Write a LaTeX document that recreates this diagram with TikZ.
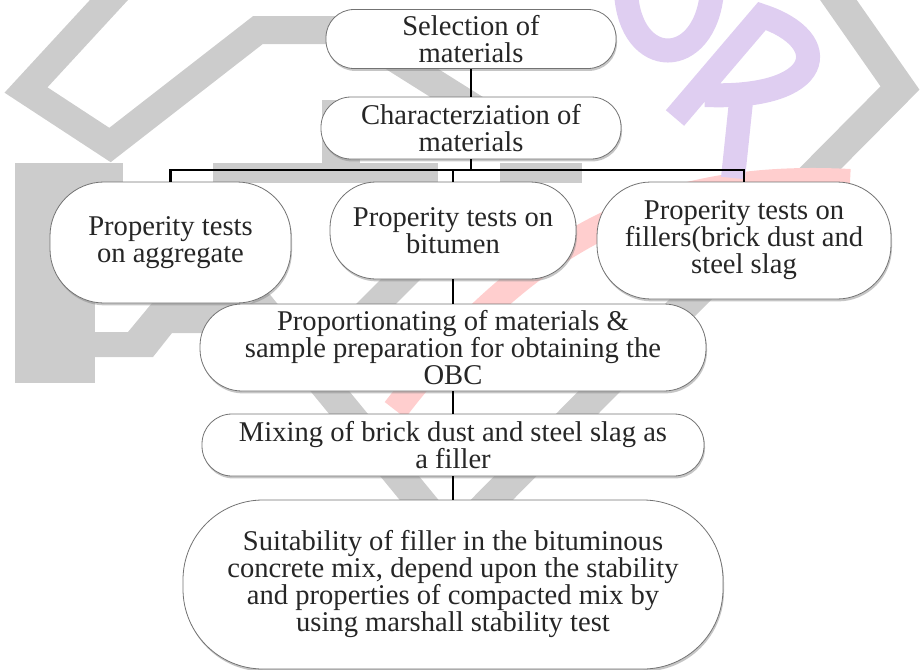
\documentclass[tikz,border=0pt]{standalone}
\usepackage{fontspec}
\setmainfont{Liberation Serif}
\usetikzlibrary{shadows}
\definecolor{wmgray}{RGB}{204,204,204}
\definecolor{wmpink}{RGB}{255,206,206}
\definecolor{wmpurple}{RGB}{223,206,241}
\begin{document}
\begin{tikzpicture}[x=0.5pt,y=-0.5pt,
  box/.style={draw=black!55,line width=0.4pt,fill=white,align=center,inner sep=0pt,
    text=black!85,font=\fontsize{14.3}{13.5}\selectfont,
    drop shadow={shadow xshift=0.5pt,shadow yshift=-1.2pt,fill=black!45}},
  link/.style={line width=1.4pt,black},
  wm/.style={line width=14pt,wmgray}]
\useasboundingbox (0,0) rectangle (922,670);

% watermark
\draw[wm] (120,-12) -- (26,90) -- (110,145) -- (258,30) -- (350,30) -- (490,118);
\draw[wm,line width=15pt] (830,-12) -- (900,88) -- (452,540) -- (255,300);
\draw[wm] (340,340) -- (430,250);
\fill[wmgray] (15,163) rectangle (95,383);
\fill[wmgray] (15,163) rectangle (123,183);
\fill[wmgray] (213,163) rectangle (438,183);
\fill[wmgray] (500,163) rectangle (582,183);
\fill[wmgray] (322,100) rectangle (360,163);
\fill[wmgray] (95,332) -- (128,332) -- (152,303) -- (240,303) -- (240,333)
  -- (172,333) -- (153,357) -- (95,357) -- cycle;
\draw[wmpink,line width=13pt] (850,182) .. controls (660,172) and (530,235) .. (395,410);
\draw[wmpurple,line width=12pt] (626,-8) .. controls (630,70) and (705,70) .. (712,-8);
\draw[wmpurple,line width=12pt] (675,118) -- (762,16) .. controls (835,40) and (825,100) .. (705,95);
\draw[wmpurple,line width=12pt] (742,92) -- (733,178);

% boxes
\node[box,minimum width=145pt,minimum height=29.5pt,rounded corners=14pt] (sel) at (471,39)
  {Selection of\\materials};
\node[box,minimum width=150pt,minimum height=31pt,rounded corners=15pt] (char) at (471,128)
  {Characterziation of\\materials};
\node[box,minimum width=120.5pt,minimum height=60.5pt,rounded corners=27pt] (agg) at (170.5,242.5)
  {Properity tests\\on aggregate};
\node[box,minimum width=123pt,minimum height=48.5pt,rounded corners=23pt] (bit) at (453,230.5)
  {Properity tests on\\bitumen};
\node[box,minimum width=147pt,minimum height=58.5pt,rounded corners=27pt] (fil) at (744,240.5)
  {Properity tests on\\fillers(brick dust and\\steel slag};
\node[box,minimum width=253pt,minimum height=43.5pt,rounded corners=21pt] (prop) at (453,347.5)
  {Proportionating of materials \&\\sample preparation for obtaining the\\OBC};
\node[box,minimum width=251pt,minimum height=31pt,rounded corners=15pt] (mix) at (453,445)
  {Mixing of brick dust and steel slag as\\a filler};
\node[box,minimum width=270pt,minimum height=84.5pt,rounded corners=40pt] (suit) at (453,584.5)
  {Suitability of filler in the bituminous\\concrete mix, depend upon the stability\\and properties of compacted mix by\\using marshall stability test};

% links
\coordinate (bus) at (471,170);
\draw[link] (sel.south) -- (char.north);
\draw[link] (char.south) -- (bus);
\draw[link] (agg.north) |- (fil.north |- bus) -- (fil.north);
\draw[link] (bit.north) -- (bit.north |- bus);
\draw[link] (bit.south) -- (prop.north);
\draw[link] (prop.south) -- (mix.north);
\draw[link] (mix.south) -- (suit.north);
\end{tikzpicture}
\end{document}
